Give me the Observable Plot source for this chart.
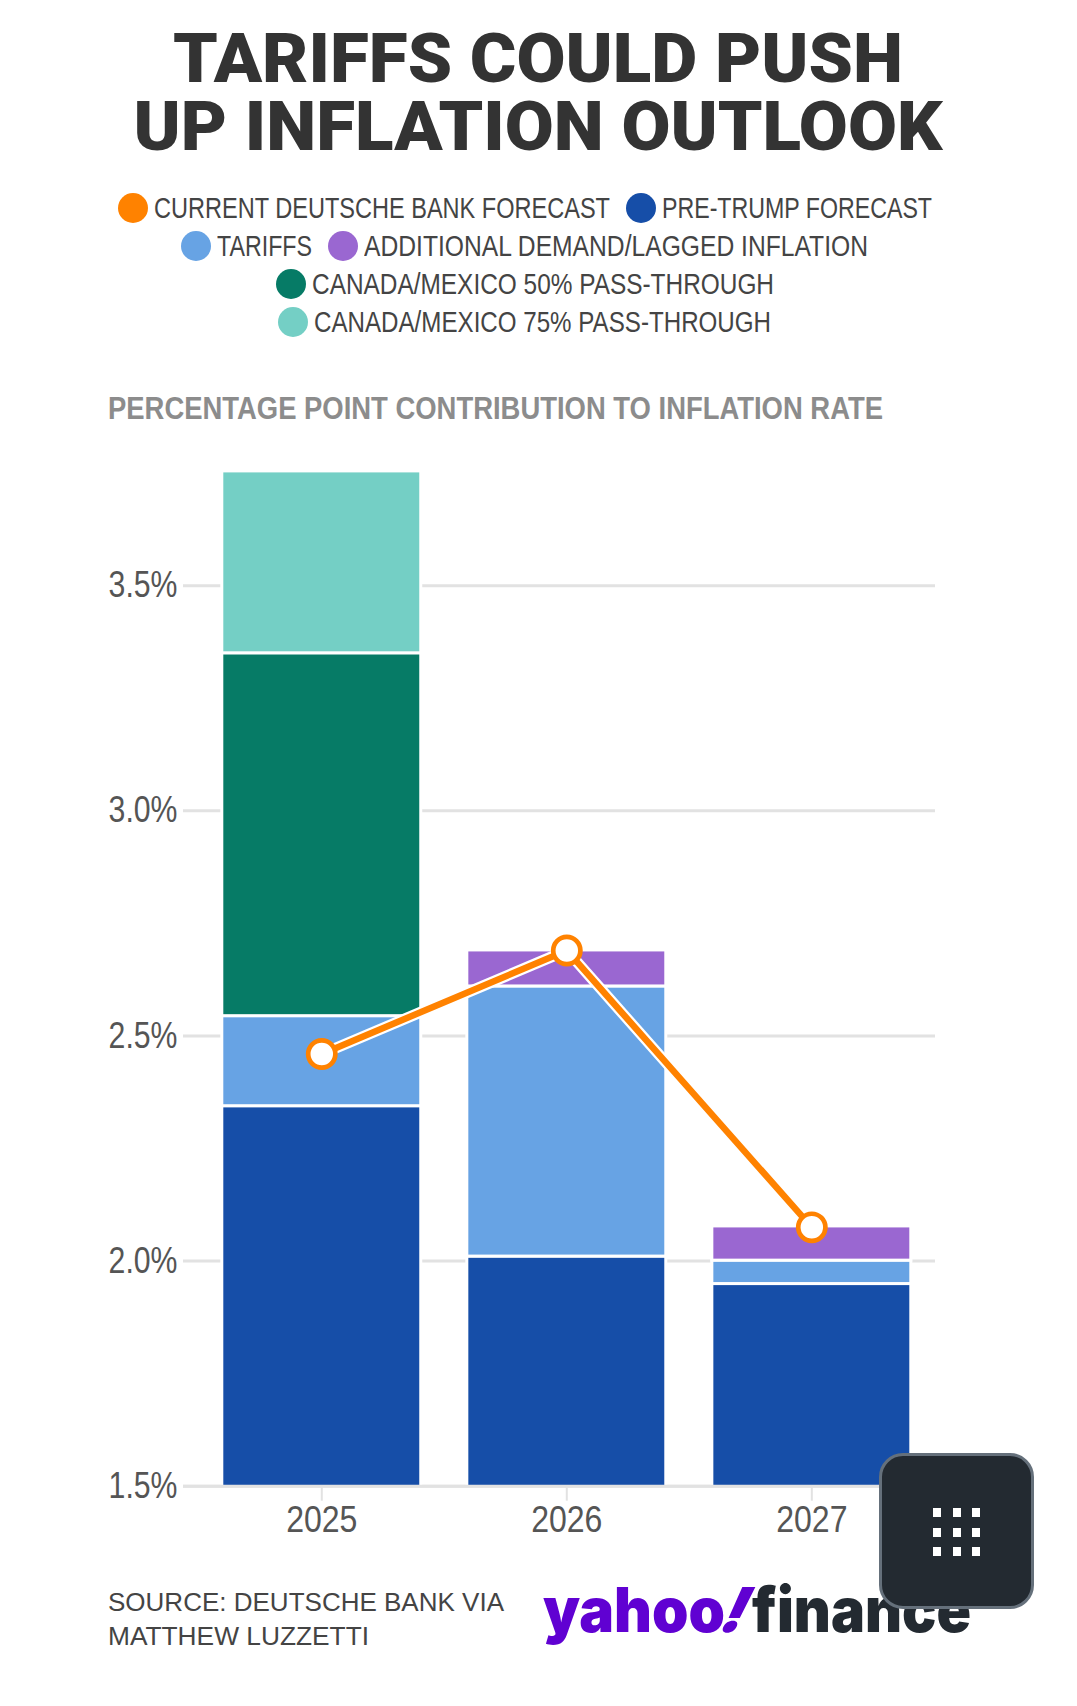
<!DOCTYPE html>
<html>
<head>
<meta charset="utf-8">
<script src="https://cdn.jsdelivr.net/npm/d3@7"></script>
<script src="https://cdn.jsdelivr.net/npm/@observablehq/plot@0.6"></script>
<style>
html,body{margin:0;padding:0;background:#fff;}
#page{position:relative;width:1077px;height:1706px;overflow:hidden;font-family:"Liberation Sans",sans-serif;}
#page>div{position:absolute;white-space:nowrap;}
.title{left:0;top:25px;width:1076px;text-align:center;font-family:Roboto,"Liberation Sans",sans-serif;font-weight:900;font-size:69px;line-height:68px;color:#333;transform:scaleX(1.03);transform-origin:center;}
.row{left:0;width:1033px;display:flex;justify-content:center;align-items:center;font-size:29px;line-height:36px;color:#444;}
.sw{display:inline-block;flex:none;width:30px;height:30px;border-radius:50%;margin-right:6px;margin-left:16px;}
.fit{display:inline-block;white-space:nowrap;}
.fit>span{display:inline-block;transform-origin:left center;white-space:nowrap;}
.sub{left:108px;top:389px;font-size:31px;line-height:40px;font-weight:700;color:#8c8c8c;}
.src{left:108px;font-size:26px;line-height:34px;color:#444;}
.logo{font-family:Inter,Roboto,sans-serif;font-weight:900;font-size:62px;line-height:80px;}
.btn{left:879px;top:1453px;width:149px;height:150px;background:#232a31;border:3px solid #65707b;border-radius:24px;}
.d{position:absolute;width:8px;height:9px;background:#fff;}
svg{display:block;}
</style>
</head>
<body>
<div id="page"></div>
<script>
const years = ["2025", "2026", "2027"];
const seriesNames = ["PRE-TRUMP FORECAST", "TARIFFS", "ADDITIONAL DEMAND/LAGGED INFLATION", "CANADA/MEXICO 50% PASS-THROUGH", "CANADA/MEXICO 75% PASS-THROUGH"];
const seriesColors = ["#164EA8", "#67A3E4", "#9A67D1", "#067B66", "#74CFC5"];
const preTrump = [2.344, 2.01, 1.949];
const tariffs = [0.2, 0.60, 0.052];
const additional = [0, 0.08, 0.076];
const canada50 = [0.806, 0, 0];
const canada75 = [0.404, 0, 0];
const forecastName = "CURRENT DEUTSCHE BANK FORECAST";
const forecastColor = "#FF8200";
const forecast = [2.46, 2.69, 2.075];
const yTicks = [1.5, 2, 2.5, 3, 3.5];
const titleLines = ["TARIFFS COULD PUSH", "UP INFLATION OUTLOOK"];
const legendRows = [[forecastName, seriesNames[0]], [seriesNames[1], seriesNames[2]], [seriesNames[3]], [seriesNames[4]]];
const subtitle = "PERCENTAGE POINT CONTRIBUTION TO INFLATION RATE";
const sourceLines = ["SOURCE: DEUTSCHE BANK VIA", "MATTHEW LUZZETTI"];

const page = document.getElementById("page");
function add(cls, css, html) {
  const e = document.createElement("div");
  e.className = cls; e.style.cssText = css; e.innerHTML = html; page.appendChild(e); return e;
}
// squeeze the text of every .fit span to the width named in data-w (no condensed face is installed)
function fitAll() {
  page.querySelectorAll(".fit").forEach(f => {
    const inner = f.firstChild, w = +f.dataset.w, m = inner.getBoundingClientRect().width;
    inner.style.transform = `scaleX(${w / m})`;
    f.style.width = w + "px";
  });
}
const fit = (text, w, extra = "") => `<span class="fit" data-w="${w}" style="${extra}"><span>${text}</span></span>`;

add("title", "", titleLines.join("<br>"));
const legendWidth = {[forecastName]: 456, [seriesNames[0]]: 270, [seriesNames[1]]: 95, [seriesNames[2]]: 504, [seriesNames[3]]: 462, [seriesNames[4]]: 457};
const colorOf = n => n === forecastName ? forecastColor : seriesColors[seriesNames.indexOf(n)];
legendRows.forEach((r, i) => add("row", `top:${190 + i * 38}px`,
  r.map(n => `<span class="sw" style="background:${colorOf(n)}"></span>${fit(n, legendWidth[n])}`).join("")));
add("sub", "", fit(subtitle, 775));

const values = [preTrump, tariffs, additional, canada50, canada75];
const stack = [];
seriesNames.forEach((s, k) => years.forEach((y, i) => {
  if (values[k][i] > 0) stack.push({year: y, series: s, value: values[k][i]});
}));
const line = years.map((y, i) => ({year: y, value: forecast[i]}));

const chart = Plot.plot({
  width: 1077, height: 1130,
  marginLeft: 183, marginRight: 142, marginTop: 10.2, marginBottom: 84.3,
  style: {background: "transparent", fontFamily: '"Liberation Sans", sans-serif'},
  x: {domain: years, range: [221.8, 910.8], paddingInner: 0.188, paddingOuter: 0, round: false, label: null},
  y: {domain: [1.5, 3.8], label: null},
  color: {domain: seriesNames, range: seriesColors},
  marks: [
    Plot.ruleY(yTicks, {stroke: "#e2e2e2", strokeWidth: 3}),
    Plot.barY(stack, {x: "year", y: "value", fill: "series", stroke: "#fff", strokeWidth: 3, order: seriesNames, clip: true}),
    Plot.ruleY([1.5], {stroke: "#e2e2e2", strokeWidth: 3}),
    Plot.axisY({ticks: yTicks, tickFormat: d => d.toFixed(1) + "%", tickSize: 0, tickPadding: 6, marginLeft: 183, fontSize: 36, fill: "#555"}),
    Plot.axisX({tickSize: 15, tickPadding: 5, stroke: "#e2e2e2", strokeWidth: 2, fontSize: 36, fill: "#555"}),
    Plot.line(line, {x: "year", y: "value", stroke: "#fff", strokeWidth: 11}),
    Plot.line(line, {x: "year", y: "value", stroke: forecastColor, strokeWidth: 6.5}),
    Plot.dot(line, {x: "year", y: "value", r: 13.6, fill: "#fff", stroke: forecastColor, strokeWidth: 4.7})
  ]
});
const holder = add("", "left:0;top:440px", "");
holder.appendChild(chart);
// condense the axis labels to the reference's narrow figures
chart.querySelectorAll('g[aria-label="y-axis tick label"] text, g[aria-label="x-axis tick label"] text').forEach(t => {
  const k = t.parentNode.getAttribute("aria-label")[0] === "y" ? 0.84 : 0.89;
  t.setAttribute("textLength", t.getComputedTextLength() * k);
  t.setAttribute("lengthAdjust", "spacingAndGlyphs");
});

sourceLines.forEach((s, i) => add("src", `top:${1585 + i * 34}px`, fit(s, i ? 261 : 396)));
add("logo", "left:543px;top:1570px;color:#6001d2", fit("yahoo", 182));
add("logo", "left:726px;top:1570px;color:#6001d2", fit('<span style="display:inline-block;transform:skewX(-25deg)">!</span>', 24));
add("logo", "left:752px;top:1570px;color:#232a31", fit("finance", 219));
const btn = add("btn", "", "");
[0, 1, 2].forEach(r => [0, 1, 2].forEach(c => {
  const d = document.createElement("div"); d.className = "d";
  d.style.left = (51 + c * 19.7) + "px"; d.style.top = (52 + r * 19.7) + "px"; btn.appendChild(d);
}));
fitAll();
</script>
</body>
</html>
